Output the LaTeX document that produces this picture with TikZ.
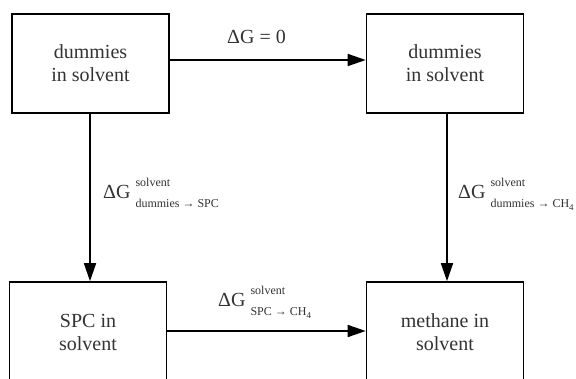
\documentclass[tikz,border=0pt]{standalone}
\usepackage{fontspec}
\setmainfont{Liberation Serif}
\usetikzlibrary{arrows.meta}
\definecolor{ink}{HTML}{333333}
% Delta G with a raised superscript and a lowered subscript
\newcommand\dgsym[2]{{\fontsize{20}{22}\selectfont ΔG}\hspace{5pt}{\fontsize{12}{12}\selectfont\rlap{\raisebox{12pt}{#1}}\raisebox{-9pt}{#2}}}
\newcommand\chfour{CH\raisebox{-3pt}{\fontsize{9}{9}\selectfont 4}}
\begin{document}
\begin{tikzpicture}[x=1pt,y=-1pt,
  statebox/.style={draw=black,line width=1.6pt,fill=white,text=ink,align=center,
    minimum width=157pt,inner sep=0pt,font=\fontsize{20}{23}\selectfont},
  flow/.style={draw=black,line width=1.6pt,-{Triangle[length=18pt,width=12pt]}},
  lbl/.style={text=ink,inner sep=0pt,anchor=base west}]
  \useasboundingbox (0,0) rectangle (576,379);
  \clip (0,0) rectangle (576,379);
  \fill[white] (0,0) rectangle (576,379);

  \node[statebox,minimum height=99pt] (tl) at (90.5,63.5) {dummies\\in solvent};
  \node[statebox,minimum height=99pt] (tr) at (445,63.5) {dummies\\in solvent};
  \node[statebox,minimum height=100pt] (bl) at (88,332) {SPC in\\solvent};
  \node[statebox,minimum height=100pt] (br) at (445,332) {methane in\\solvent};

  \draw[flow] ([yshift=3.5pt]tl.east) -- ([yshift=3.5pt]tl.east -| tr.west);
  \draw[flow] ([xshift=-0.5pt]tl.south) -- ([xshift=-0.5pt]tl.south |- bl.north);
  \draw[flow] ([xshift=2pt]tr.south) -- ([xshift=2pt]tr.south |- br.north);
  \draw[flow] ([yshift=1pt]bl.east) -- ([yshift=1pt]bl.east -| br.west);

  \node[lbl,font=\fontsize{20}{22}\selectfont] (l0) at (227,44) {ΔG = 0};
  \node[lbl] (l1) at (103,199) {\dgsym{solvent}{dummies → SPC}};
  \node[lbl] (l2) at (458,199) {\dgsym{solvent}{dummies → \chfour}};
  \node[lbl] (l3) at (218,307) {\dgsym{solvent}{SPC → \chfour}};
\end{tikzpicture}
\end{document}
